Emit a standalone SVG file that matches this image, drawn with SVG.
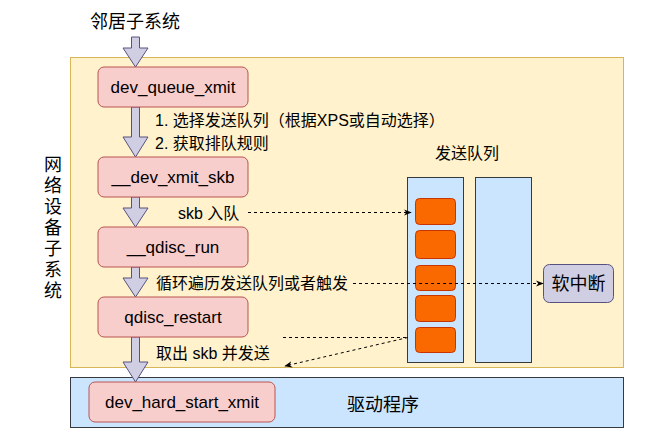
<svg xmlns="http://www.w3.org/2000/svg" width="659" height="440" viewBox="0 0 659 440">
<defs>
<style>
.node{fill:#f8cecc;stroke:#b85450;stroke-width:1}
.fn{font-family:"Liberation Sans",Arial,sans-serif;font-size:17px;fill:#000;text-anchor:middle;dominant-baseline:central}
.cn{font-family:"Liberation Sans","Noto Sans CJK SC",sans-serif;fill:#000;dominant-baseline:central}
.barrow{fill:#d0cee2;stroke:#56517e;stroke-width:1}
.dash{fill:none;stroke:#000;stroke-width:1;stroke-dasharray:3 3}
.pkt{fill:#fa6800;stroke:#c73500;stroke-width:1}
.col{fill:#cce5ff;stroke:#36393d;stroke-width:1}
</style>
<marker id="ah" viewBox="0 0 10 10" refX="9" refY="5" markerWidth="8" markerHeight="8" orient="auto" markerUnits="userSpaceOnUse">
<path d="M0,1 L10,5 L0,9 L3,5 Z" fill="#000"/>
</marker>
</defs>
<rect width="659" height="440" fill="#fff"/>

<g id="netdev">
<rect x="70.5" y="57.5" width="553" height="310" fill="#fff2cc" stroke="#d6b656"/>
<text class="cn" style="font-size:18px" text-anchor="middle">
<tspan x="53" y="165">网</tspan><tspan x="53" y="186">络</tspan><tspan x="53" y="207">设</tspan><tspan x="53" y="228">备</tspan><tspan x="53" y="249">子</tspan><tspan x="53" y="270">系</tspan><tspan x="53" y="291">统</tspan>
</text>
</g>

<g id="driver">
<rect x="70.5" y="377.5" width="553" height="50" fill="#cce5ff" stroke="#36393d"/>
<text class="cn" x="383" y="405" style="font-size:18px" text-anchor="middle">驱动程序</text>
</g>

<g id="neighbor">
<text class="cn" x="135" y="22" style="font-size:18px" text-anchor="middle">邻居子系统</text>
</g>

<g id="block-arrows">
<path class="barrow" d="M131.5,37 H139.5 V48 H148 L135.5,67 L123,48 H131.5 Z"/>
<path class="barrow" d="M131.5,107 H139.5 V137 H148 L135.5,157 L123,137 H131.5 Z"/>
<path class="barrow" d="M131.5,197 H139.5 V208 H148 L135.5,227 L123,208 H131.5 Z"/>
<path class="barrow" d="M131.5,267 H139.5 V278 H148 L135.5,297 L123,278 H131.5 Z"/>
<path class="barrow" d="M131.5,337 H139.5 V362 H148 L135.5,382 L123,362 H131.5 Z"/>
</g>

<g id="dev_queue_xmit">
<rect class="node" x="98" y="67" width="150" height="40" rx="6"/>
<text class="fn" x="173" y="87">dev_queue_xmit</text>
</g>
<g id="__dev_xmit_skb">
<rect class="node" x="98" y="157" width="150" height="40" rx="6"/>
<text class="fn" x="173" y="177">__dev_xmit_skb</text>
</g>
<g id="__qdisc_run">
<rect class="node" x="98" y="227" width="150" height="40" rx="6"/>
<text class="fn" x="173" y="247">__qdisc_run</text>
</g>
<g id="qdisc_restart">
<rect class="node" x="98" y="297" width="150" height="40" rx="6"/>
<text class="fn" x="173" y="317">qdisc_restart</text>
</g>
<g id="dev_hard_start_xmit">
<rect class="node" x="89" y="382" width="186" height="40" rx="6"/>
<text class="fn" x="182" y="402">dev_hard_start_xmit</text>
</g>

<g id="queues">
<text class="cn" x="467" y="153" style="font-size:16px" text-anchor="middle">发送队列</text>
<rect class="col" x="407.5" y="177.5" width="56" height="185"/>
<rect class="col" x="475.5" y="177.5" width="56" height="185"/>
<rect class="pkt" x="415.5" y="198.5" width="40" height="26" rx="4"/>
<rect class="pkt" x="415.5" y="230.5" width="40" height="28" rx="4"/>
<rect class="pkt" x="415.5" y="265.5" width="40" height="25" rx="4"/>
<rect class="pkt" x="415.5" y="295.5" width="40" height="26" rx="4"/>
<rect class="pkt" x="415.5" y="327.5" width="40" height="25" rx="4"/>
</g>

<g id="softirq">
<rect x="543.5" y="264.5" width="70" height="38" rx="6" fill="#d0cee2" stroke="#56517e"/>
<text class="cn" x="578.5" y="283.5" style="font-size:18px" text-anchor="middle">软中断</text>
</g>

<g id="labels">
<text class="cn" x="155" y="120" style="font-size:16px">1. 选择发送队列（根据XPS或自动选择）</text>
<text class="cn" x="155" y="143" style="font-size:16px">2. 获取排队规则</text>
<text class="cn" x="178" y="213" style="font-size:16px">skb 入队</text>
<text class="cn" x="156" y="283" style="font-size:16px">循环遍历发送队列或者触发</text>
<text class="cn" x="156" y="353" style="font-size:16px">取出 skb 并发送</text>
</g>

<g id="connectors">
<line class="dash" x1="248" y1="212.5" x2="411" y2="212.5" marker-end="url(#ah)"/>
<line class="dash" x1="353" y1="283.5" x2="543" y2="283.5" marker-end="url(#ah)"/>
<line class="dash" x1="283" y1="337.5" x2="408" y2="337.5"/>
<line class="dash" x1="408" y1="337.5" x2="285" y2="366" marker-end="url(#ah)"/>
</g>
</svg>
